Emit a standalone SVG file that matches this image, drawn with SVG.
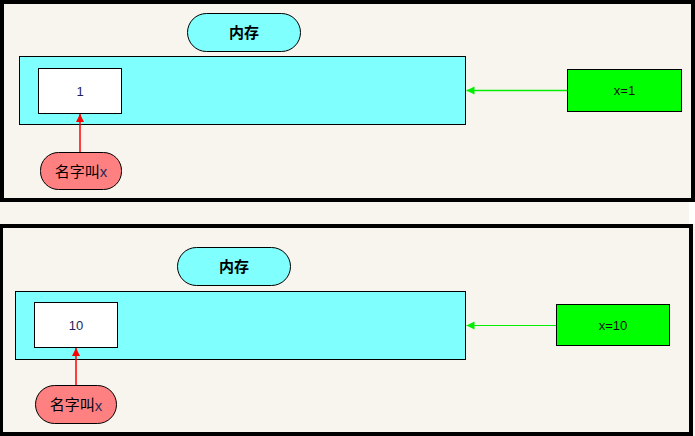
<svg xmlns="http://www.w3.org/2000/svg" width="695" height="436" viewBox="0 0 695 436">
<style>
.bg{fill:#F8F5EE}
.frame{fill:none;stroke:#000;stroke-width:4}
.mem{fill:#80FFFF;stroke:#000;stroke-width:1}
.cell{fill:#FFFFFF;stroke:#000;stroke-width:1}
.name{fill:#FF8080;stroke:#000;stroke-width:1}
.assign{fill:#00FF00;stroke:#000;stroke-width:1}
text{font-family:"Liberation Sans","Noto Sans CJK SC",Arial,sans-serif;text-anchor:middle;dominant-baseline:central}
.title{font-size:15px;font-weight:bold;fill:#000}
.val{font-size:13px;fill:#1E1E5A}
.lbl{font-size:15px;fill:#000}
.lat{fill:#2A2A55}
.asg{font-size:13px;fill:#111}
.red{stroke:#FF0000;stroke-width:1.5;fill:none}
.grn{stroke:#00EE00;stroke-width:1.5;fill:none}
.grn2{stroke:#00EE00;stroke-width:1;fill:none}
</style>
<defs>
<marker id="ar" markerWidth="9" markerHeight="9" refX="8" refY="4" orient="auto" markerUnits="userSpaceOnUse">
<path d="M0,0 L8,4 L0,8 Z" fill="#FF0000"/>
</marker>
<marker id="ag" markerWidth="9" markerHeight="9" refX="8" refY="4" orient="auto" markerUnits="userSpaceOnUse">
<path d="M0,0 L8,4 L0,8 Z" fill="#00EE00"/>
</marker>
</defs>
<rect class="bg" x="0" y="0" width="695" height="436"/>
<rect x="689" y="202" width="6" height="22" fill="#FFFFFF"/>
<rect class="frame" x="2" y="2" width="691" height="198"/>
<rect class="frame" x="1" y="226" width="690" height="208"/>

<g id="memory-title-1"><rect class="mem" x="187.5" y="13.5" width="113" height="38" rx="19"/><text class="title" x="244" y="32">内存</text></g>
<g id="memory-1"><rect class="mem" x="19.5" y="56.5" width="446" height="68"/></g>
<g id="cell-1"><rect class="cell" x="38.5" y="68.5" width="83" height="45"/><text class="val" x="80" y="91">1</text></g>
<g id="name-1"><rect class="name" x="40.5" y="152.5" width="81" height="37" rx="18"/><text class="lbl" x="81" y="171">名字叫<tspan class="lat">x</tspan></text></g>
<g id="assign-1"><rect class="assign" x="567.5" y="69.5" width="114" height="42"/><text class="asg" x="624.5" y="90.5">x=1</text></g>

<g id="memory-title-2"><rect class="mem" x="177.5" y="247.5" width="113" height="38" rx="19"/><text class="title" x="234" y="266">内存</text></g>
<g id="memory-2"><rect class="mem" x="15.5" y="291.5" width="450" height="68"/></g>
<g id="cell-2"><rect class="cell" x="34.5" y="302.5" width="83" height="45"/><text class="val" x="76" y="325">10</text></g>
<g id="name-2"><rect class="name" x="35.5" y="385.5" width="81" height="38" rx="19"/><text class="lbl" x="76" y="404.5">名字叫<tspan class="lat">x</tspan></text></g>
<g id="assign-2"><rect class="assign" x="556.5" y="304.5" width="113" height="41"/><text class="asg" x="613" y="325">x=10</text></g>

<g id="connectors">
<line class="red" x1="80" y1="152" x2="80" y2="114" marker-end="url(#ar)"/>
<line class="grn" x1="567" y1="90.5" x2="466.5" y2="90.5" marker-end="url(#ag)"/>
<line class="red" x1="76" y1="385" x2="76" y2="348" marker-end="url(#ar)"/>
<line class="grn2" x1="556" y1="325.5" x2="466.5" y2="325.5" marker-end="url(#ag)"/>
</g>
</svg>
